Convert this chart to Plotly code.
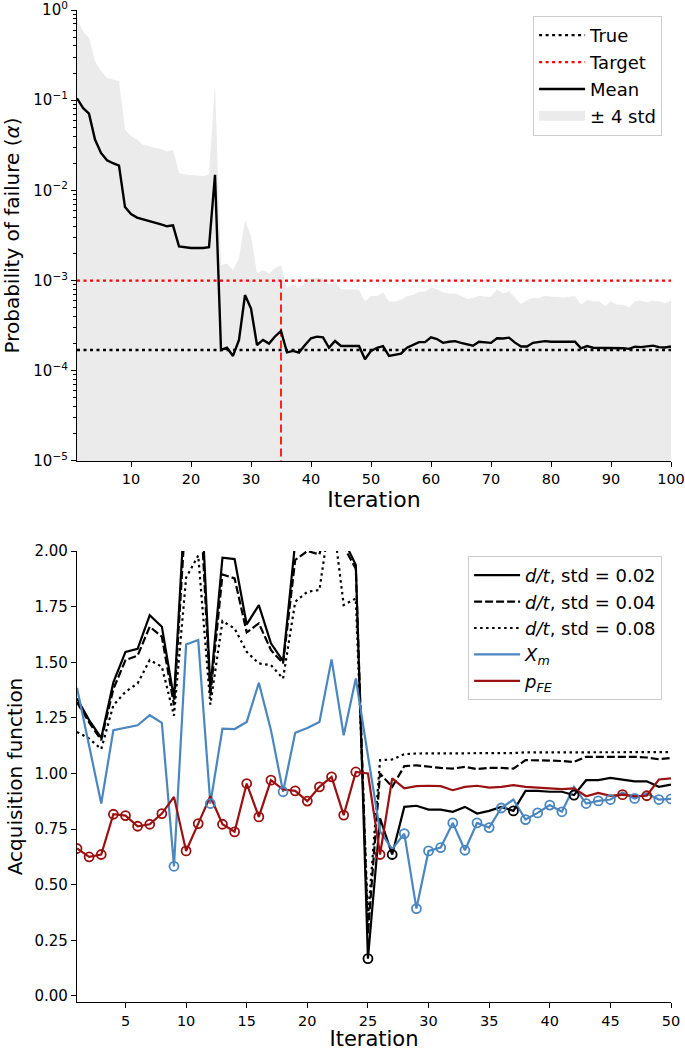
import plotly.graph_objects as go

# ---------------- Top panel data ----------------
iter_top = list(range(1, 101))
mean_alpha = [
    0.105, 0.082, 0.071, 0.0366, 0.026, 0.0216, 0.020, 0.0188, 0.00653, 0.00546,
    0.0050, 0.0048, 0.0046, 0.0044, 0.0042, 0.0040, 0.0041, 0.00239, 0.00234, 0.0023,
    0.0023, 0.0023, 0.00235, 0.0149, 0.000170, 0.00018, 0.000146, 0.00022, 0.00069, 0.00049,
    0.000193, 0.00022, 0.0002, 0.00024, 0.000276, 0.000160, 0.000166, 0.000159, 0.000193, 0.000229,
    0.000239, 0.000235, 0.00018, 0.000214, 0.000188, 0.000188, 0.000188, 0.000188, 0.000134, 0.000166,
    0.00018, 0.000188, 0.000146, 0.00015, 0.000155, 0.00018, 0.000193, 0.000208, 0.000208, 0.000235,
    0.000225, 0.000204, 0.00021, 0.000213, 0.000204, 0.000195, 0.00019, 0.00021, 0.000205, 0.000204,
    0.000229, 0.000228, 0.000233, 0.000205, 0.000186, 0.000186, 0.000204, 0.00021, 0.000213, 0.00021,
    0.000208, 0.00021, 0.00021, 0.00021, 0.000177, 0.000188, 0.00018, 0.00018, 0.000179, 0.00018,
    0.000178, 0.000178, 0.000175, 0.000185, 0.000183, 0.000185, 0.00019, 0.000183, 0.000181, 0.000186,
]
upper_alpha = [
    0.8, 0.58, 0.49, 0.27, 0.21, 0.177, 0.17, 0.163, 0.047, 0.04,
    0.0366, 0.032, 0.031, 0.0295, 0.0288, 0.027, 0.028, 0.0156, 0.015, 0.0147,
    0.0146, 0.0144, 0.015, 0.149, 0.00149, 0.00155, 0.00131, 0.00177, 0.0047, 0.0031,
    0.0012, 0.00131, 0.0012, 0.00137, 0.00149, 0.00082, 0.0009, 0.00082, 0.00094, 0.00104,
    0.00109, 0.00104, 0.0009, 0.00098, 0.0008, 0.0008, 0.0008, 0.00079, 0.000585, 0.000676,
    0.000676, 0.000736, 0.000585, 0.000585, 0.00061, 0.000676, 0.00069, 0.00075, 0.00075, 0.00084,
    0.0008, 0.00074, 0.00072, 0.00072, 0.00068, 0.00063, 0.00064, 0.00068, 0.00066, 0.00066,
    0.0008, 0.00072, 0.00076, 0.00065, 0.00055, 0.00061, 0.00064, 0.00064, 0.00068, 0.00066,
    0.00065, 0.00065, 0.00066, 0.00067, 0.00054, 0.00061, 0.00059, 0.00059, 0.00052, 0.00059,
    0.00054, 0.00054, 0.000506, 0.00059, 0.0006, 0.00057, 0.0006, 0.00059, 0.00056, 0.0006,
]
true_alpha = 1.7e-4
target_alpha = 1e-3
stop_iter = 35
band_floor = 1e-7
top_ticks = [1e-5, 1e-4, 1e-3, 1e-2, 1e-1, 1e0]
top_ticktext = ["10<sup>\u22125</sup>", "10<sup>\u22124</sup>", "10<sup>\u22123</sup>",
                "10<sup>\u22122</sup>", "10<sup>\u22121</sup>", "10<sup>0</sup>"]

# ---------------- Bottom panel data ----------------
iter_bot = list(range(1, 51))
dt_002 = [
    1.337, 1.24, 1.16, 1.41, 1.547, 1.56, 1.712, 1.66, 1.337, 2.3,
    2.55, 1.38, 1.97, 1.964, 1.67, 1.757, 1.585, 1.505, 2.04, 2.1,
    2.2, 2.2, 2.05, 1.937, 0.168, 0.798, 0.636, 0.85, 0.855, 0.838,
    0.838, 0.828, 0.85, 0.82, 0.832, 0.85, 0.832, 0.922, 0.922, 0.918,
    0.918, 0.903, 0.97, 0.97, 0.98, 0.973, 0.965, 0.965, 0.94, 0.95,
]
dt_004 = [
    1.32, 1.23, 1.15, 1.38, 1.51, 1.53, 1.66, 1.615, 1.307, 2.2,
    2.4, 1.35, 1.895, 1.877, 1.634, 1.675, 1.555, 1.495, 1.96, 2.0,
    1.985, 2.2, 2.02, 1.92, 0.28, 1.0, 0.94, 1.033, 1.037, 1.03,
    1.025, 1.022, 1.03, 1.02, 1.025, 1.025, 1.022, 1.06, 1.06, 1.058,
    1.056, 1.052, 1.075, 1.075, 1.077, 1.075, 1.075, 1.072, 1.064, 1.07,
]
dt_008 = [
    1.187, 1.157, 1.11, 1.307, 1.367, 1.405, 1.51, 1.48, 1.26, 1.88,
    1.98, 1.31, 1.685, 1.652, 1.547, 1.495, 1.487, 1.427, 1.772, 1.817,
    1.825, 2.2, 1.757, 1.787, 0.35, 1.06, 1.063, 1.087, 1.09, 1.09,
    1.09, 1.09, 1.09, 1.09, 1.09, 1.09, 1.092, 1.095, 1.095, 1.094,
    1.094, 1.094, 1.097, 1.097, 1.097, 1.097, 1.097, 1.096, 1.096, 1.096,
]
x_m = [
    1.385, 1.12, 0.865, 1.195, 1.205, 1.217, 1.262, 1.228, 0.583, 1.58,
    1.6, 0.865, 1.202, 1.2, 1.232, 1.408, 1.195, 0.918, 1.183, 1.205,
    1.232, 1.513, 1.172, 1.427, 1.08, 0.74, 0.66, 0.73, 0.393, 0.652,
    0.667, 0.778, 0.655, 0.778, 0.757, 0.845, 0.883, 0.793, 0.823, 0.858,
    0.828, 0.94, 0.865, 0.877, 0.883, 0.915, 0.888, 0.91, 0.883, 0.886,
]
p_fe = [
    0.663, 0.625, 0.636, 0.817, 0.811, 0.763, 0.772, 0.82, 0.895, 0.652,
    0.775, 0.898, 0.772, 0.738, 0.955, 0.805, 0.97, 0.928, 0.922, 0.876,
    0.94, 0.985, 0.813, 1.007, 1.0, 0.636, 0.978, 0.933, 0.943, 0.945,
    0.943, 0.925, 0.94, 0.945, 0.937, 0.94, 0.948, 0.94, 0.937, 0.933,
    0.93, 0.933, 0.898, 0.913, 0.9, 0.905, 0.898, 0.9, 0.973, 0.978,
]
bot_yticks = [0.0, 0.25, 0.5, 0.75, 1.0, 1.25, 1.5, 1.75, 2.0]

FONT = "DejaVu Sans"
BLUE = "#4a86bf"
RED = "#9b1111"
GREY = "rgb(235,235,235)"

fig = go.Figure()

# ---- top panel ----
fig.add_trace(go.Scatter(x=iter_top, y=[band_floor] * len(iter_top), mode="lines",
                         line=dict(width=0, color=GREY), showlegend=False, hoverinfo="skip",
                         xaxis="x", yaxis="y"))
fig.add_trace(go.Scatter(x=iter_top, y=upper_alpha, mode="lines", fill="tonexty", fillcolor=GREY,
                         line=dict(width=0, color=GREY), name="\u00b1 4 std", showlegend=False,
                         legendgroup="t4", xaxis="x", yaxis="y"))
# legend swatch for the band (no data drawn)
fig.add_trace(go.Scatter(x=[None], y=[None], mode="lines", line=dict(width=13, color=GREY),
                         name="\u00b1 4 std", legendrank=4, legendgroup="t4",
                         xaxis="x", yaxis="y", legend="legend"))
fig.add_trace(go.Scatter(x=[stop_iter, stop_iter], y=[target_alpha, band_floor], mode="lines",
                         line=dict(color="red", width=1.7, dash="8px,4px"), showlegend=False,
                         xaxis="x", yaxis="y"))
fig.add_trace(go.Scatter(x=[iter_top[0], iter_top[-1]], y=[true_alpha, true_alpha], mode="lines",
                         line=dict(color="black", width=2.3, dash="3px,3.5px"), name="True",
                         legendrank=1, legendgroup="t1", xaxis="x", yaxis="y", legend="legend"))
fig.add_trace(go.Scatter(x=[iter_top[0], iter_top[-1]], y=[target_alpha, target_alpha], mode="lines",
                         line=dict(color="red", width=2.3, dash="3px,3.5px"), name="Target",
                         legendrank=2, legendgroup="t2", xaxis="x", yaxis="y", legend="legend"))
fig.add_trace(go.Scatter(x=iter_top, y=mean_alpha, mode="lines",
                         line=dict(color="black", width=2.4), name="Mean",
                         legendrank=3, legendgroup="t3", xaxis="x", yaxis="y", legend="legend"))

# ---- bottom panel ----
series = [
    (dt_002, "<i>d/t</i>, std = 0.02", dict(color="black", width=2.2)),
    (dt_004, "<i>d/t</i>, std = 0.04", dict(color="black", width=2.2, dash="8px,3px")),
    (dt_008, "<i>d/t</i>, std = 0.08", dict(color="black", width=2.2, dash="2.5px,3.5px")),
    (x_m, "<i>X<sub>m</sub></i>", dict(color=BLUE, width=2.2)),
    (p_fe, "<i>p<sub>FE</sub></i>", dict(color=RED, width=2.2)),
]
for k, (vals, name, line) in enumerate(series):
    fig.add_trace(go.Scatter(x=iter_bot, y=vals, mode="lines", line=line, name=name,
                             legendrank=k + 1, legendgroup="b%d" % k,
                             xaxis="x2", yaxis="y2", legend="legend2"))

# circle the smallest acquisition value at each iteration
candidates = [(dt_002, "black"), (x_m, BLUE), (p_fe, RED)]
for vals, col in candidates:
    xs, ys = [], []
    for i, it in enumerate(iter_bot):
        m = min(c[0][i] for c in candidates)
        if vals[i] == m:
            xs.append(it)
            ys.append(vals[i])
    fig.add_trace(go.Scatter(x=xs, y=ys, mode="markers", showlegend=False,
                             marker=dict(symbol="circle-open", size=9, color=col,
                                         line=dict(width=1.8, color=col)),
                             xaxis="x2", yaxis="y2"))

axis_common = dict(showline=True, linecolor="black", linewidth=1.2, ticks="outside",
                   ticklen=5, tickwidth=1.2, tickcolor="black", showgrid=False,
                   zeroline=False, mirror=False, automargin=False, ticklabeloverflow="allow")

fig.update_layout(
    width=685, height=1051,
    margin=dict(l=77, r=14, t=10, b=49),
    plot_bgcolor="white", paper_bgcolor="white",
    font=dict(family=FONT, size=14, color="black"),
    xaxis=dict(domain=[0, 1], anchor="y", range=[iter_top[0], iter_top[-1]],
               tickvals=list(range(10, 101, 10)), tickfont=dict(size=14.5, family=FONT),
               title=dict(text="Iteration", font=dict(size=22), standoff=4), **axis_common),
    yaxis=dict(domain=[0.5454, 1.0], anchor="x", type="log", range=[-5, 0],
               tickvals=top_ticks, ticktext=top_ticktext, tickfont=dict(size=15, family=FONT),
               minor=dict(tickmode="array",
                          tickvals=[m * 10.0 ** e for e in range(-5, 0) for m in range(2, 10)],
                          ticks="outside", ticklen=3, tickwidth=1, tickcolor="black"),
               title=dict(text="Probability of failure (<i>\u03b1</i>)", font=dict(size=20), standoff=8),
               **axis_common),
    xaxis2=dict(domain=[0, 1], anchor="y2", range=[iter_bot[0], iter_bot[-1]],
                tickvals=list(range(5, 51, 5)), tickfont=dict(size=14.5, family=FONT),
                title=dict(text="Iteration", font=dict(size=21), standoff=2), **axis_common),
    yaxis2=dict(domain=[0, 0.4546], anchor="x2", range=[-0.027, 2.0],
                tickvals=bot_yticks, tickformat=".2f", tickfont=dict(size=15, family=FONT),
                title=dict(text="Acquisition function", font=dict(size=20), standoff=6),
                **axis_common),
    legend=dict(x=0.985, y=0.994, xanchor="right", yanchor="top", bgcolor="rgba(255,255,255,0.85)",
                bordercolor="#cccccc", borderwidth=1, font=dict(size=18, family=FONT),
                traceorder="grouped", tracegroupgap=0.5, itemwidth=46),
    legend2=dict(x=0.985, y=0.4496, xanchor="right", yanchor="top", bgcolor="rgba(255,255,255,0.85)",
                 bordercolor="#cccccc", borderwidth=1, font=dict(size=18, family=FONT),
                 traceorder="grouped", tracegroupgap=0, itemwidth=46),
)

fig.write_html("out.html", config={"displayModeBar": False},
               post_script="document.body.style.margin='0';document.body.style.overflow='hidden';")
